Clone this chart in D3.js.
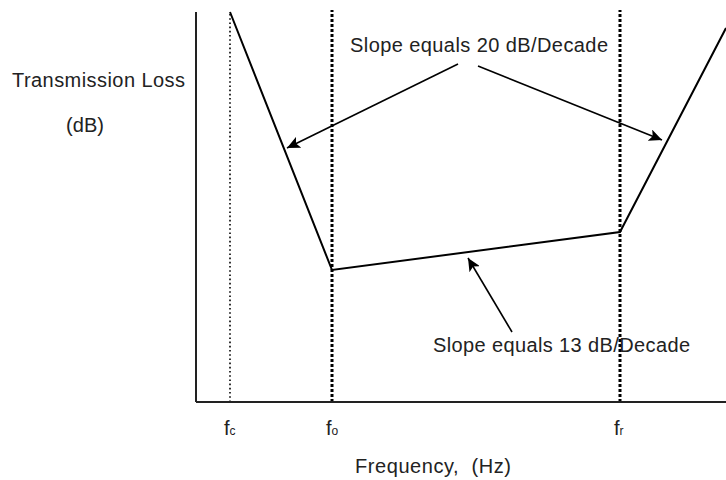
<!DOCTYPE html>
<html><head><meta charset="utf-8">
<script src="https://cdn.jsdelivr.net/npm/d3@7"></script>
<style>html,body{margin:0;padding:0;background:#fff;}svg{display:block;}text{white-space:pre;}</style>
</head><body>
<script>
// ---- data (abstract frequency / loss units) ----
const curveFreq = [34, 136, 424, 530];
const curveLoss = [390, 132, 170, 374];
const markerFreq = [34, 136, 424];
const markerSub = ["c", "o", "r"];
const markerHeavy = [false, true, true];
const arrowFrom = [[262, 338], [282, 336], [316, 70]];
const arrowTo = [[91, 254], [466, 262], [272, 144]];
const yLabel1 = "Transmission Loss";
const yLabel2 = "(dB)";
const xLabel = "Frequency,  (Hz)";
const note20 = "Slope equals 20 dB/Decade";
const note13 = "Slope equals 13 dB/Decade";

const W = 726, H = 480;
const svg = d3.select("body").append("svg").attr("width", W).attr("height", H);
const x = d3.scaleLinear().domain([0, 530]).range([196, 726]);
const y = d3.scaleLinear().domain([0, 390]).range([402, 12]);

svg.append("defs").append("marker")
  .attr("id", "ah").attr("markerUnits", "userSpaceOnUse")
  .attr("markerWidth", 14).attr("markerHeight", 12)
  .attr("refX", 13).attr("refY", 6).attr("orient", "auto")
  .append("path").attr("d", "M0,0 L13,6 L0,12 L3,6 Z").attr("fill", "#000");

const font = "'Liberation Sans', Arial, sans-serif";

// marker lines
svg.selectAll("line.mk").data(markerFreq).join("line")
  .attr("x1", d => x(d)).attr("x2", d => x(d))
  .attr("y1", y(0)).attr("y2", (d, i) => markerHeavy[i] ? y(392) : y(390))
  .attr("stroke", "#000")
  .attr("stroke-width", (d, i) => markerHeavy[i] ? 3 : 1.6)
  .attr("stroke-dasharray", (d, i) => markerHeavy[i] ? "3,2" : "1.6,2.6");

// axes
svg.append("line").attr("x1", x(0)).attr("x2", x(0)).attr("y1", y(0)).attr("y2", y(390))
  .attr("stroke", "#222").attr("stroke-width", 2);
svg.append("line").attr("x1", x(0)).attr("x2", x(530)).attr("y1", y(0)).attr("y2", y(0))
  .attr("stroke", "#222").attr("stroke-width", 2);

// curve
const pts = curveFreq.map((f, i) => [f, curveLoss[i]]);
svg.append("path").datum(pts)
  .attr("d", d3.line().x(d => x(d[0])).y(d => y(d[1])))
  .attr("fill", "none").attr("stroke", "#000").attr("stroke-width", 2);

// arrows
svg.selectAll("line.ar").data(arrowFrom).join("line")
  .attr("x1", d => x(d[0])).attr("y1", d => y(d[1]))
  .attr("x2", (d, i) => x(arrowTo[i][0])).attr("y2", (d, i) => y(arrowTo[i][1]))
  .attr("stroke", "#000").attr("stroke-width", 1.6).attr("marker-end", "url(#ah)");

// texts
function txt(s, tx, ty, len) {
  const t = svg.append("text").attr("x", tx).attr("y", ty).text(s)
    .attr("font-family", font).attr("font-size", 20).attr("fill", "#222");
  if (len) t.attr("textLength", len).attr("lengthAdjust", "spacing");
  return t;
}
txt(yLabel1, 12, 87, 173);
txt(yLabel2, 85, 132, null).attr("text-anchor", "middle");
txt(note20, 350, 52, 258);
txt(note13, 433, 352, 257);
txt(xLabel, 355, 473, 156);

// tick labels
const tl = svg.selectAll("text.tk").data(markerFreq).join("text")
  .attr("x", d => x(d) - 6).attr("y", 435)
  .attr("font-family", font).attr("fill", "#222");
tl.append("tspan").attr("font-size", 20).text("f");
tl.append("tspan").attr("font-size", 12).text((d, i) => markerSub[i]);
</script>
</body></html>
